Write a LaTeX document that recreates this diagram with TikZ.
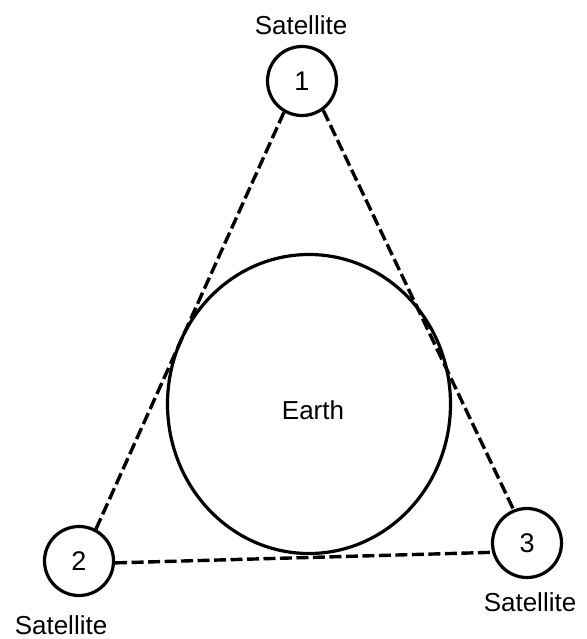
\documentclass[tikz,border=0pt]{standalone}
\usepackage{fontspec}
\setmainfont{Liberation Sans}
\usetikzlibrary{shapes.geometric}
\begin{document}
\begin{tikzpicture}[x=1pt,y=-1pt,
  sat/.style={circle,draw,line width=3.2pt,minimum size=69pt,inner sep=0pt,font=\fontsize{27}{32}\selectfont},
  lbl/.style={font=\fontsize{26}{31}\selectfont,inner sep=0pt},
  earthstyle/.style={ellipse,draw,line width=3.2pt,minimum width=283pt,minimum height=299pt,inner sep=0pt},
  link/.style={line width=3.4pt,dash pattern=on 12pt off 4.5pt}]
\useasboundingbox (0,0) rectangle (586,639);
\node[earthstyle] (earth) at (309,404) {};
\node[lbl] (earthlbl) at (313,410) {Earth};
\node[sat] (s1) at (302,81) {1};
\node[sat] (s2) at (79,561) {2};
\node[sat] (s3) at (527,543) {3};
\node[lbl] (l1) at (301,25) {Satellite};
\node[lbl] (l2) at (61,625) {Satellite};
\node[lbl] (l3) at (530,602) {Satellite};
\draw[link] (s1.240) -- (s2.62);
\draw[link] (s1.-54) -- (s3.112);
\draw[link] (s2.-3) -- (s3.195);
\end{tikzpicture}
\end{document}
